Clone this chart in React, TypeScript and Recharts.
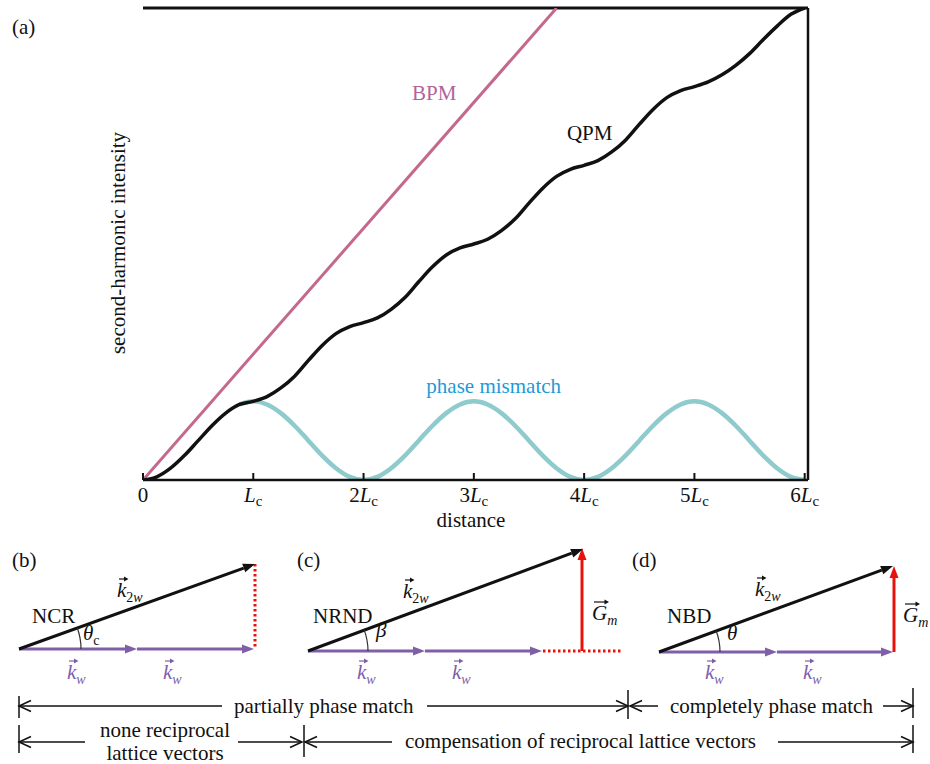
import React from "react";
import {
  ComposedChart,
  Line,
  Scatter,
  XAxis,
  YAxis,
  ReferenceLine,
} from "recharts";

document.body.style.margin = "0";

const FONT = '"Liberation Serif", "Times New Roman", Times, serif';
const INK = "#111111";
const PURPLE = "#7e5fa8";
const RED = "#e8120c";
const BPM_COLOR = "#c4688e";
const MISMATCH_COLOR = "#8fcacd";

// (a) distance in units of Lc
const distance = [
  0, 0.125, 0.25, 0.375, 0.5, 0.625, 0.75, 0.875,
  1, 1.125, 1.25, 1.375, 1.5, 1.625, 1.75, 1.875,
  2, 2.125, 2.25, 2.375, 2.5, 2.625, 2.75, 2.875,
  3, 3.125, 3.25, 3.375, 3.5, 3.625, 3.75, 3.875,
  4, 4.125, 4.25, 4.375, 4.5, 4.625, 4.75, 4.875,
  5, 5.125, 5.25, 5.375, 5.5, 5.625, 5.75, 5.875,
  6,
];

const qpmIntensity = [
  0, 0.04, 0.15, 0.31, 0.5, 0.69, 0.85, 0.96,
  1, 1.06, 1.17, 1.32, 1.52, 1.71, 1.86, 1.95,
  2, 2.06, 2.17, 2.32, 2.52, 2.71, 2.86, 2.95,
  3, 3.06, 3.17, 3.32, 3.52, 3.71, 3.86, 3.95,
  4, 4.06, 4.17, 4.32, 4.52, 4.71, 4.86, 4.95,
  5, 5.06, 5.15, 5.27, 5.42, 5.6, 5.77, 5.92,
  6,
];

// hidden under the QPM curve before Lc
const mismatchIntensity = [
  null, null, null, null, null, null, null, 0.96,
  1, 0.96, 0.85, 0.69, 0.5, 0.31, 0.15, 0.04,
  0, 0.04, 0.15, 0.31, 0.5, 0.69, 0.85, 0.96,
  1, 0.96, 0.85, 0.69, 0.5, 0.31, 0.15, 0.04,
  0, 0.04, 0.15, 0.31, 0.5, 0.69, 0.85, 0.96,
  1, 0.96, 0.85, 0.69, 0.5, 0.31, 0.15, 0.04,
  0,
];

const bpmDistance = [0, 3.75];
const bpmIntensity = [0, 6];

const xTicks = [0, 1, 2, 3, 4, 5, 6];
const xTickCoef = ["0", "", "2", "3", "4", "5", "6"];
const yTicks = [1, 2, 3, 4, 5];

const seriesLabelText = ["BPM", "QPM", "phase mismatch"];
const seriesLabelX = [2.64, 4.05, 3.18];
const seriesLabelY = [4.83, 4.32, 1.11];
const seriesLabelColor = ["#b0649a", INK, "#1f9ad6"];

// (b)-(d) vector diagrams, page pixels [x1, y1, x2, y2]
const k2wVectors = [
  [19, 649, 255, 564],
  [308, 651, 583, 549],
  [659, 652, 893, 566],
];
const kwVectors = [
  [19, 649, 137, 649],
  [137, 649, 254, 649],
  [308, 651, 425, 651],
  [425, 651, 542, 651],
  [659, 652, 777, 652],
  [777, 652, 893, 652],
];
const gmVectors = [
  [582, 651, 582, 548],
  [894, 652, 894, 566],
];
const mismatchSegments = [
  [255, 564, 255, 649],
  [543, 651, 623, 651],
];
const spanArrows = [
  [222, 706, 19, 706],
  [427, 706, 628, 706],
  [658, 706, 630, 706],
  [883, 706, 913, 706],
  [85, 742, 19, 742],
  [238, 742, 302, 742],
  [392, 742, 305, 742],
  [778, 742, 913, 742],
];
const spanBars = [
  [19, 696, 19, 718],
  [628, 690, 628, 719],
  [913, 688, 913, 718],
  [19, 725, 19, 753],
  [304, 725, 304, 757],
  [913, 725, 913, 753],
];
// angle arcs: [cx, cy, r, degrees]
const angleArcs = [
  [19, 649, 62, 19.8],
  [308, 651, 60, 20.4],
  [659, 652, 61, 20.2],
];

const plainLabels = [
  { x: 12, y: 34, text: "(a)", anchor: "start" },
  { x: 471, y: 527, text: "distance", anchor: "middle" },
  { x: 125, y: 243, text: "second-harmonic intensity", anchor: "middle", rotate: true },
  { x: 12, y: 567, text: "(b)", anchor: "start" },
  { x: 297, y: 567, text: "(c)", anchor: "start" },
  { x: 632, y: 567, text: "(d)", anchor: "start" },
  { x: 32, y: 623, text: "NCR", anchor: "start" },
  { x: 313, y: 623, text: "NRND", anchor: "start" },
  { x: 667, y: 623, text: "NBD", anchor: "start" },
  { x: 234, y: 713, text: "partially phase match", anchor: "start" },
  { x: 670, y: 713, text: "completely phase match", anchor: "start" },
  { x: 165, y: 737, text: "none reciprocal", anchor: "middle" },
  { x: 165, y: 760, text: "lattice vectors", anchor: "middle" },
  { x: 405, y: 748, text: "compensation of reciprocal lattice vectors", anchor: "start" },
];

const mathLabels = [
  { x: 117, y: 597, base: "k", up: "2", it: "w", arrow: true, color: INK },
  { x: 83, y: 640, base: "θ", up: "c", it: "", arrow: false, color: INK },
  { x: 67, y: 679, base: "k", up: "", it: "w", arrow: true, color: PURPLE },
  { x: 163, y: 679, base: "k", up: "", it: "w", arrow: true, color: PURPLE },
  { x: 403, y: 598, base: "k", up: "2", it: "w", arrow: true, color: INK },
  { x: 376, y: 637, base: "β", up: "", it: "", arrow: false, color: INK },
  { x: 592, y: 620, base: "G", up: "", it: "m", arrow: true, color: INK },
  { x: 357, y: 679, base: "k", up: "", it: "w", arrow: true, color: PURPLE },
  { x: 452, y: 679, base: "k", up: "", it: "w", arrow: true, color: PURPLE },
  { x: 755, y: 596, base: "k", up: "2", it: "w", arrow: true, color: INK },
  { x: 727, y: 640, base: "θ", up: "", it: "", arrow: false, color: INK },
  { x: 903, y: 622, base: "G", up: "", it: "m", arrow: true, color: INK },
  { x: 705, y: 679, base: "k", up: "", it: "w", arrow: true, color: PURPLE },
  { x: 803, y: 679, base: "k", up: "", it: "w", arrow: true, color: PURPLE },
];

const curveData = distance.map((x, i) => ({
  x,
  qpm: qpmIntensity[i],
  mismatch: mismatchIntensity[i],
}));
const bpmData = bpmDistance.map((x, i) => ({ x, bpm: bpmIntensity[i] }));
const seriesLabels = seriesLabelText.map((text, i) => ({
  text,
  x: seriesLabelX[i],
  y: seriesLabelY[i],
  color: seriesLabelColor[i],
}));
const arcData = angleArcs.map(([x, y, r, deg]) => ({ x, y, r, deg }));

function headGeometry(x1: number, y1: number, x2: number, y2: number, len: number, half: number) {
  const d = Math.hypot(x2 - x1, y2 - y1) || 1;
  const ux = (x2 - x1) / d;
  const uy = (y2 - y1) / d;
  const bx = x2 - ux * len;
  const by = y2 - uy * len;
  return {
    bx,
    by,
    left: [bx - uy * half, by + ux * half],
    right: [bx + uy * half, by - ux * half],
  };
}

function VectorShape(props: any) {
  const { x1, y1, x2, y2, color, kind } = props;
  if (kind === "dotted") {
    return (
      <line x1={x1} y1={y1} x2={x2} y2={y2} stroke={color} strokeWidth={3} strokeDasharray="2.5 2.5" />
    );
  }
  if (kind === "bar") {
    return <line x1={x1} y1={y1} x2={x2} y2={y2} stroke={INK} strokeWidth={1.5} />;
  }
  if (kind === "open") {
    const h = headGeometry(x1, y1, x2, y2, 12, 5.5);
    return (
      <g>
        <line x1={x1} y1={y1} x2={x2} y2={y2} stroke={INK} strokeWidth={1.5} />
        <polyline
          points={`${h.left[0]},${h.left[1]} ${x2},${y2} ${h.right[0]},${h.right[1]}`}
          fill="none"
          stroke={INK}
          strokeWidth={1.5}
        />
      </g>
    );
  }
  const h = headGeometry(x1, y1, x2, y2, 12, 4.5);
  return (
    <g>
      <line x1={x1} y1={y1} x2={h.bx} y2={h.by} stroke={color} strokeWidth={3} />
      <polygon
        points={`${x2},${y2} ${h.left[0]},${h.left[1]} ${h.right[0]},${h.right[1]}`}
        fill={color}
      />
    </g>
  );
}

const XTick = (props: any) => {
  const { x, y, payload } = props;
  const coef = xTickCoef[xTicks.indexOf(payload.value)];
  return (
    <g>
      <line x1={x} y1={y} x2={x} y2={y - 7} stroke={INK} strokeWidth={2} />
      <text x={x} y={y + 22} textAnchor="middle" fontFamily={FONT} fontSize={21} fill={INK}>
        {coef}
        {payload.value !== 0 && <tspan fontStyle="italic">L</tspan>}
        {payload.value !== 0 && (
          <tspan fontSize={15} dy={4}>
            c
          </tspan>
        )}
      </text>
    </g>
  );
};

const YTick = (props: any) => {
  const { x, y } = props;
  return <line x1={x} y1={y} x2={x + 6} y2={y} stroke={INK} strokeWidth={2} />;
};

const SeriesLabel = (props: any) => {
  const { cx, cy, payload } = props;
  return (
    <text x={cx} y={cy} textAnchor="middle" fontFamily={FONT} fontSize={21} fill={payload.color}>
      {payload.text}
    </text>
  );
};

const PlainLabel = (props: any) => {
  const { cx, cy, payload } = props;
  return (
    <text
      x={cx}
      y={cy}
      textAnchor={payload.anchor}
      fontFamily={FONT}
      fontSize={21}
      fill={INK}
      transform={payload.rotate ? `rotate(-90 ${cx} ${cy})` : undefined}
    >
      {payload.text}
    </text>
  );
};

const MathLabel = (props: any) => {
  const { cx, cy, payload } = props;
  const baseW = payload.base === "G" ? 15 : 9.5;
  const ay = cy - 18;
  const ax1 = cx + 2;
  const ax2 = cx + baseW + 2;
  return (
    <g>
      <text x={cx} y={cy} fontFamily={FONT} fontSize={21} fill={payload.color}>
        <tspan fontStyle="italic">{payload.base}</tspan>
        {payload.up && (
          <tspan fontSize={14} dy={5}>
            {payload.up}
          </tspan>
        )}
        {payload.it && (
          <tspan fontSize={14} fontStyle="italic" dy={payload.up ? 0 : 5}>
            {payload.it}
          </tspan>
        )}
      </text>
      {payload.arrow && (
        <g>
          <line x1={ax1} y1={ay} x2={ax2 - 2} y2={ay} stroke={payload.color} strokeWidth={1.2} />
          <polygon
            points={`${ax2},${ay} ${ax2 - 4.5},${ay - 2.5} ${ax2 - 4.5},${ay + 2.5}`}
            fill={payload.color}
          />
        </g>
      )}
    </g>
  );
};

const ArcShape = (props: any) => {
  const { cx, cy, payload } = props;
  const a = (payload.deg * Math.PI) / 180;
  const ex = cx + payload.r * Math.cos(a);
  const ey = cy - payload.r * Math.sin(a);
  return (
    <path
      d={`M ${cx + payload.r} ${cy} A ${payload.r} ${payload.r} 0 0 0 ${ex} ${ey}`}
      fill="none"
      stroke="#333"
      strokeWidth={1.2}
    />
  );
};

function segmentLines(list: number[][], kind: string, color: string, prefix: string) {
  return list.map(([x1, y1, x2, y2], i) => (
    <ReferenceLine
      key={`${prefix}-${i}`}
      segment={[
        { x: x1, y: y1 },
        { x: x2, y: y2 },
      ]}
      shape={(p: any) => <VectorShape {...p} kind={kind} color={color} />}
    />
  ));
}

export default function App() {
  return (
    <div style={{ position: "relative", width: 930, height: 764, background: "#fff" }}>
      <div style={{ position: "absolute", left: 0, top: 0 }}>
        <ComposedChart width={930} height={530} margin={{ top: 8, right: 122, bottom: 0, left: 143 }}>
          <XAxis
            type="number"
            dataKey="x"
            domain={[0, 6.03]}
            allowDataOverflow
            ticks={xTicks}
            interval={0}
            tick={XTick}
            tickLine={false}
            tickSize={0}
            tickMargin={0}
            height={50}
            axisLine={{ stroke: INK, strokeWidth: 2.5 }}
          />
          <YAxis
            type="number"
            dataKey="y"
            domain={[0, 6]}
            allowDataOverflow
            ticks={yTicks}
            interval={0}
            tick={YTick}
            tickLine={false}
            tickSize={0}
            tickMargin={0}
            width={0}
            axisLine={{ stroke: INK, strokeWidth: 2.5 }}
          />
          <ReferenceLine y={6} stroke={INK} strokeWidth={3} />
          <ReferenceLine x={6.03} stroke={INK} strokeWidth={2.5} />
          <Line
            data={bpmData}
            dataKey="bpm"
            type="linear"
            stroke={BPM_COLOR}
            strokeWidth={3}
            dot={false}
            isAnimationActive={false}
          />
          <Line
            data={curveData}
            dataKey="mismatch"
            type="monotone"
            stroke={MISMATCH_COLOR}
            strokeWidth={4.5}
            dot={false}
            isAnimationActive={false}
          />
          <Line
            data={curveData}
            dataKey="qpm"
            type="monotone"
            stroke={INK}
            strokeWidth={3.5}
            dot={false}
            isAnimationActive={false}
          />
          <Scatter data={seriesLabels} shape={SeriesLabel} isAnimationActive={false} />
        </ComposedChart>
      </div>
      <div style={{ position: "absolute", left: 0, top: 0 }}>
        <ComposedChart width={930} height={764} margin={{ top: 0, right: 0, bottom: 0, left: 0 }}>
          <XAxis type="number" dataKey="x" domain={[0, 930]} hide />
          <YAxis type="number" dataKey="y" domain={[0, 764]} reversed hide />
          {segmentLines(mismatchSegments, "dotted", RED, "mis")}
          {segmentLines(kwVectors, "solid", PURPLE, "kw")}
          {segmentLines(gmVectors, "solid", RED, "gm")}
          {segmentLines(k2wVectors, "solid", INK, "k2w")}
          {segmentLines(spanBars, "bar", INK, "bar")}
          {segmentLines(spanArrows, "open", INK, "span")}
          <Scatter data={arcData} shape={ArcShape} isAnimationActive={false} />
          <Scatter data={plainLabels} shape={PlainLabel} isAnimationActive={false} />
          <Scatter data={mathLabels} shape={MathLabel} isAnimationActive={false} />
        </ComposedChart>
      </div>
    </div>
  );
}
